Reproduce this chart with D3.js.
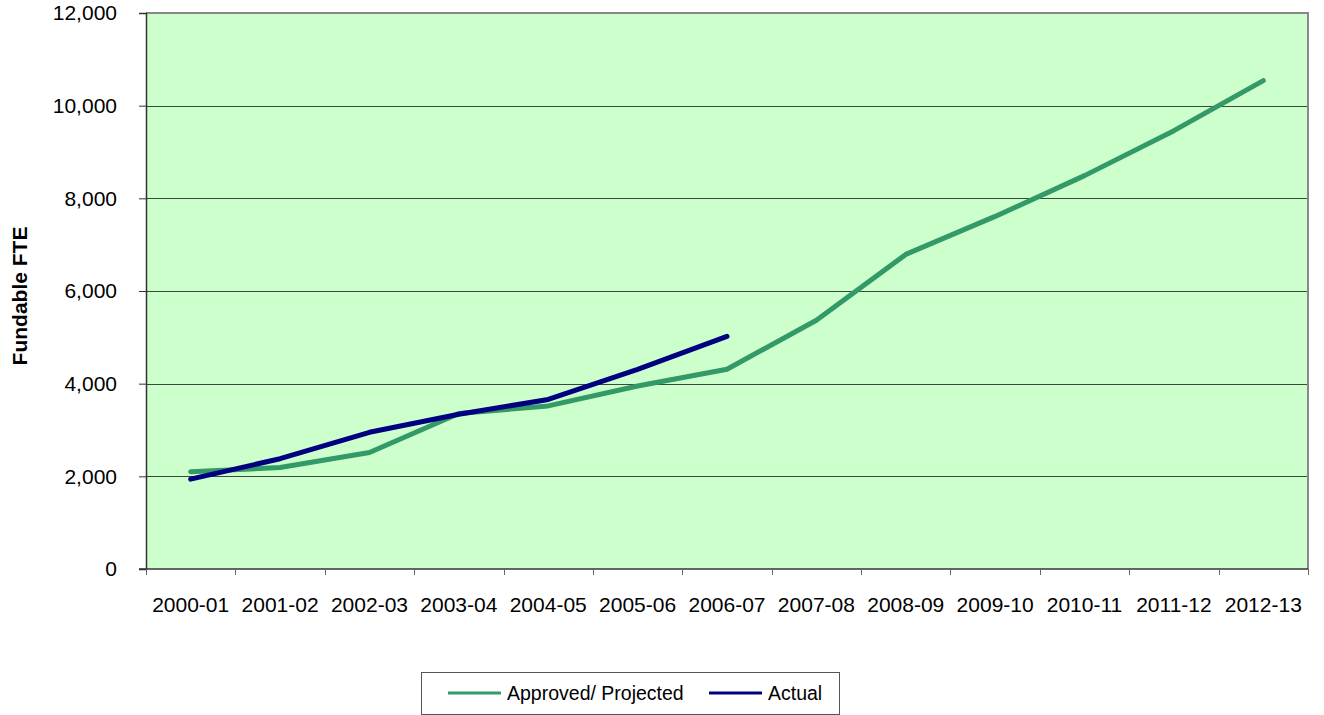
<!DOCTYPE html>
<html>
<head>
<meta charset="utf-8">
<script src="https://cdn.jsdelivr.net/npm/d3@7"></script>
<style>
  body { margin: 0; background: #fff; }
  text { font-family: "Liberation Sans", Arial, sans-serif; fill: #000; }
</style>
</head>
<body>
<svg id="chart" width="1324" height="715"></svg>
<script>
// data
var years = ["2000-01", "2001-02", "2002-03", "2003-04", "2004-05", "2005-06", "2006-07",
             "2007-08", "2008-09", "2009-10", "2010-11", "2011-12", "2012-13"];
var approved = [2100, 2190, 2515, 3355, 3520, 3950, 4310, 5370, 6790, 7610, 8490, 9460, 10540];
var actual = [1940, 2380, 2950, 3340, 3660, 4310, 5020];
var yTicks = [0, 2000, 4000, 6000, 8000, 10000, 12000];

var svg = d3.select("#chart"),
    plotL = 146, plotR = 1308, plotT = 13, plotB = 569;

var x = d3.scaleBand().domain(years).range([plotL, plotR]);
var y = d3.scaleLinear().domain([0, 12000]).range([plotB, plotT]);

// plot background
svg.append("rect")
  .attr("x", plotL).attr("y", plotT)
  .attr("width", plotR - plotL).attr("height", plotB - plotT)
  .attr("fill", "#ccffcc");

// gridlines
svg.append("g").selectAll("line")
  .data(yTicks.filter(function(d) { return d > 0 && d < 12000; }))
  .enter().append("line")
  .attr("x1", plotL).attr("x2", plotR)
  .attr("y1", function(d) { return Math.round(y(d)) + 0.5; })
  .attr("y2", function(d) { return Math.round(y(d)) + 0.5; })
  .attr("stroke", "#3a4a3a").attr("stroke-width", 1);

// gray border top/right
svg.append("path")
  .attr("d", "M" + plotL + "," + plotT + "H" + plotR + "V" + plotB)
  .attr("fill", "none").attr("stroke", "#888").attr("stroke-width", 2);

// y axis
var yAxis = svg.append("g")
  .attr("transform", "translate(" + plotL + ",0)")
  .call(d3.axisLeft(y).tickValues(yTicks).tickSize(7).tickPadding(22)
        .tickFormat(d3.format(",")));
yAxis.select(".domain").attr("stroke", "#333").attr("stroke-width", 1.5);
yAxis.selectAll(".tick line").attr("stroke", "#333");
yAxis.selectAll("text").style("font-size", "21px").attr("fill", "#000");

// x axis: ticks on band boundaries
var xAxis = svg.append("g")
  .attr("transform", "translate(0," + plotB + ")");
xAxis.append("line")
  .attr("x1", plotL - 7).attr("x2", plotR)
  .attr("stroke", "#333").attr("stroke-width", 1.5);
xAxis.selectAll(".bt")
  .data(years.concat(["end"]))
  .enter().append("line")
  .attr("x1", function(d, i) { return left(i); })
  .attr("x2", function(d, i) { return left(i); })
  .attr("y1", 0).attr("y2", 6)
  .attr("stroke", "#666");
xAxis.selectAll("text")
  .data(years)
  .enter().append("text")
  .attr("x", function(d) { return x(d) + x.bandwidth() / 2; })
  .attr("y", 43)
  .attr("text-anchor", "middle")
  .style("font-size", "21px")
  .text(function(d) { return d; });

function left(i) { return Math.round(plotL + i * x.bandwidth()) + 0.5; }

// y title
svg.append("text")
  .attr("transform", "translate(27,296) rotate(-90)")
  .attr("text-anchor", "middle")
  .style("font-size", "21px").style("font-weight", "bold")
  .text("Fundable FTE");

var line = d3.line()
  .x(function(d, i) { return x(years[i]) + x.bandwidth() / 2; })
  .y(function(d) { return y(d); });

svg.append("path").datum(approved)
  .attr("d", line).attr("fill", "none")
  .attr("stroke", "#339966").attr("stroke-width", 5)
  .attr("stroke-linecap", "round").attr("stroke-linejoin", "round");

svg.append("path").datum(actual)
  .attr("d", line).attr("fill", "none")
  .attr("stroke", "#000080").attr("stroke-width", 5)
  .attr("stroke-linecap", "round").attr("stroke-linejoin", "round");

// legend
var lg = svg.append("g");
lg.append("rect")
  .attr("x", 421.5).attr("y", 672.5).attr("width", 418).attr("height", 42)
  .attr("fill", "#fff").attr("stroke", "#555");
var items = [["Approved/ Projected", "#339966", 448], ["Actual", "#000080", 709]];
items.forEach(function(it) {
  lg.append("line")
    .attr("x1", it[2]).attr("x2", it[2] + 53)
    .attr("y1", 693).attr("y2", 693)
    .attr("stroke", it[1]).attr("stroke-width", 3);
  lg.append("text")
    .attr("x", it[2] + 59).attr("y", 700)
    .style("font-size", "19.5px")
    .text(it[0]);
});
</script>
</body>
</html>
